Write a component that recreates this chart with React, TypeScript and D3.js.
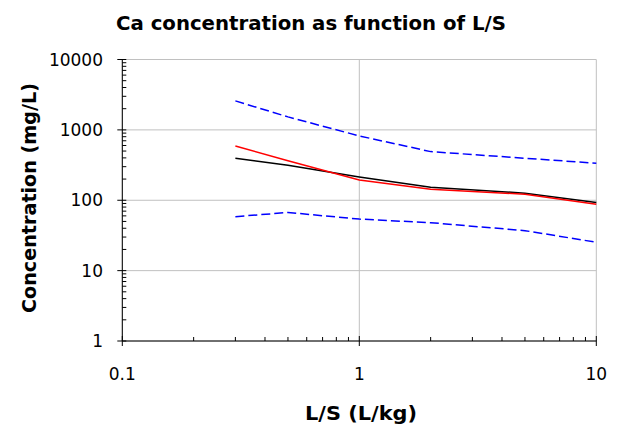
import React from "react";
import * as d3 from "d3";

const lsValues = [0.3, 0.5, 1, 2, 5, 10];
const blackSeries = [395, 314, 214, 153, 126, 93];
const redSeries = [591, 365, 194, 143, 122, 88];
const upperBlue = [2580, 1530, 820, 491, 395, 336];
const lowerBlue = [58.5, 67, 54, 48, 37, 25.3];

const xTickLabels = ["0.1", "1", "10"];
const yTickLabels = ["1", "10", "100", "1000", "10000"];

const W = 620;
const H = 428;
const M = { left: 122.3, right: 596.3, top: 59.5, bottom: 341 };

export default function App() {
  const x = d3.scaleLog().domain([0.1, 10]).range([M.left, M.right]);
  const y = d3.scaleLog().domain([1, 10000]).range([M.bottom, M.top]);

  const line = d3
    .line<number>()
    .x((_, i) => x(lsValues[i]))
    .y((d) => y(d));

  const xMinor: number[] = [];
  for (const dec of [0.1, 1]) for (let k = 2; k <= 9; k++) xMinor.push(dec * k);
  const yMinor: number[] = [];
  for (const dec of [1, 10, 100, 1000]) for (let k = 2; k <= 9; k++) yMinor.push(dec * k);

  const font = "'DejaVu Sans', Verdana, sans-serif";
  const grid = "#c0c0c0";

  return (
    <svg width={W} height={H} style={{ position: "absolute", left: 0, top: 0 }} fontFamily={font}>
      <rect width={W} height={H} fill="#fff" />
      {/* gridlines */}
      {yTickLabels.map((t) => (
        <line key={"gy" + t} x1={M.left} x2={M.right} y1={y(+t)} y2={y(+t)} stroke={grid} strokeWidth={1} />
      ))}
      {xTickLabels.map((t) => (
        <line key={"gx" + t} x1={x(+t)} x2={x(+t)} y1={M.top} y2={M.bottom} stroke={grid} strokeWidth={1} />
      ))}
      {/* axes */}
      <line x1={M.left} x2={M.left} y1={M.top} y2={M.bottom} stroke="#000" strokeWidth={1} />
      <line x1={M.left} x2={M.right} y1={M.bottom} y2={M.bottom} stroke="#000" strokeWidth={1} />
      {/* y ticks */}
      {yTickLabels.map((t) => (
        <line key={"ty" + t} x1={M.left - 5} x2={M.left + 4} y1={y(+t)} y2={y(+t)} stroke="#000" />
      ))}
      {yMinor.map((v) => (
        <line key={"my" + v} x1={M.left} x2={M.left + 4} y1={y(v)} y2={y(v)} stroke="#000" />
      ))}
      {/* x ticks */}
      {xTickLabels.map((t) => (
        <line key={"tx" + t} x1={x(+t)} x2={x(+t)} y1={M.bottom - 5} y2={M.bottom + 5} stroke="#000" />
      ))}
      {xMinor.map((v) => (
        <line key={"mx" + v} x1={x(v)} x2={x(v)} y1={M.bottom - 4} y2={M.bottom} stroke="#000" />
      ))}
      {/* tick labels */}
      {yTickLabels.map((t) => (
        <text key={"ly" + t} x={103} y={y(+t)} dy="0.36em" textAnchor="end" fontSize={17} fill="#000">
          {t}
        </text>
      ))}
      {xTickLabels.map((t) => (
        <text key={"lx" + t} x={x(+t)} y={380} textAnchor="middle" fontSize={17} fill="#000">
          {t}
        </text>
      ))}
      {/* series */}
      <path d={line(upperBlue) || ""} fill="none" stroke="#0000ff" strokeWidth={1.5} strokeDasharray="9,4" />
      <path d={line(lowerBlue) || ""} fill="none" stroke="#0000ff" strokeWidth={1.5} strokeDasharray="9,4" />
      <path d={line(blackSeries) || ""} fill="none" stroke="#000" strokeWidth={1.5} />
      <path d={line(redSeries) || ""} fill="none" stroke="#ff0000" strokeWidth={1.5} />
      {/* titles */}
      <text
        x={311}
        y={30}
        textAnchor="middle"
        fontSize={20}
        fontWeight="bold"
        fill="#000"
        textLength={390}
        lengthAdjust="spacingAndGlyphs"
      >
        Ca concentration as function of L/S
      </text>
      <text
        x={361}
        y={420}
        textAnchor="middle"
        fontSize={20}
        fontWeight="bold"
        fill="#000"
        textLength={112}
        lengthAdjust="spacingAndGlyphs"
      >
        L/S (L/kg)
      </text>
      <text
        transform={`translate(36, 198) rotate(-90)`}
        textAnchor="middle"
        fontSize={20}
        fontWeight="bold"
        fill="#000"
        textLength={230}
        lengthAdjust="spacingAndGlyphs"
      >
        Concentration (mg/L)
      </text>
    </svg>
  );
}
